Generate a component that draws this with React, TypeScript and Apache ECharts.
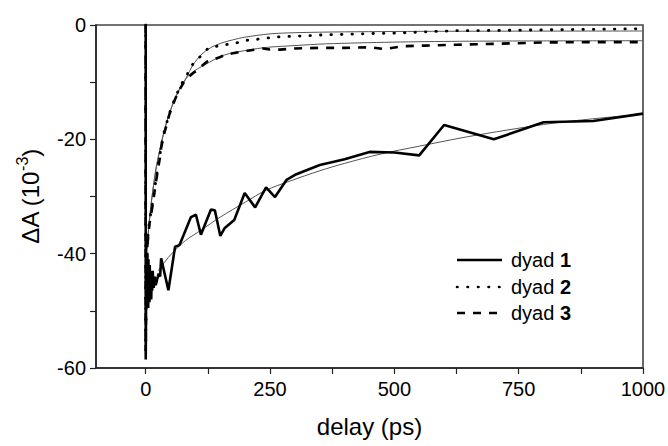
import React, { useEffect, useRef } from "react";
import * as echarts from "echarts";

// delay (ps) and ΔA (10^-3)
const t1 = [0, 0, 1, 1.5, 2, 2.5, 3, 3.5, 4, 5, 5.5, 6, 7, 7.5, 8, 9, 10, 11, 12, 13, 14, 16, 18, 20, 23, 26, 29, 31, 45.6, 59, 68, 91, 101, 111, 131, 139, 150, 159, 178, 199, 220, 242, 260, 283, 303, 350, 400, 450, 500, 550, 600, 700, 800, 900, 1000];
const dyad1 = [0, -58.5, -44, -49, -42, -48, -40, -47.5, -43, -49.5, -41, -47, -44, -48.5, -42, -46.5, -43, -48, -44.5, -46.5, -43, -46, -44, -45.5, -44.5, -43.5, -44, -40.8, -46.4, -38.8, -38.5, -33.6, -33.2, -36.7, -32.3, -32.4, -36.9, -35.5, -34.1, -29.4, -31.9, -28.4, -30.1, -27.1, -26.1, -24.5, -23.5, -22.2, -22.3, -22.8, -17.5, -20.0, -17.0, -16.8, -15.5];

const t2 = [0, 0, 1, 2, 3, 4, 6, 8, 10, 14, 18, 21, 25, 28, 31, 35, 38, 42, 47, 53, 58, 64, 70, 76, 81, 88, 95, 102, 110, 119, 128, 140, 151, 165, 178, 190, 200, 212, 224, 242, 262, 290, 320, 362, 400, 450, 511, 560, 625, 700, 800, 900, 1000];
const dyad2 = [0, -57, -44, -41, -39, -37.5, -35.5, -34, -33, -31, -28.5, -27, -24.5, -23, -21.3, -19.5, -18.4, -17.2, -15.6, -14.2, -13, -11.8, -10.6, -9.7, -9.1, -7.8, -6.8, -6.1, -5.5, -4.6, -3.9, -3.8, -3.5, -3.4, -3.3, -2.9, -2.7, -2.6, -2.5, -2.3, -2.1, -2.0, -1.9, -1.7, -1.65, -1.5, -1.4, -1.2, -1.0, -0.95, -0.85, -0.75, -0.65];

const t3 = [0, 0, 1, 2, 3, 4, 6, 8, 10, 14, 18, 21, 25, 28, 31, 35, 38, 42, 47, 53, 58, 64, 70, 76, 81, 90, 97, 105, 115, 125, 138, 150, 160, 175, 190, 205, 220, 235, 250, 270, 300, 350, 400, 450, 480, 520, 560, 625, 700, 800, 900, 1000];
const dyad3 = [0, -57, -45, -42, -40, -38, -36, -34.5, -33.5, -31.5, -29, -27.2, -25, -23.5, -21.5, -19.8, -18.7, -17.5, -15.8, -14.3, -13.2, -12.0, -11, -10.1, -9.5, -8.8, -8.3, -7.9, -7.0, -6.3, -6.0, -5.6, -5.2, -4.95, -4.7, -4.5, -4.3, -4.1, -4.3, -4.3, -4.1, -4.0, -4.0, -3.9, -4.2, -3.7, -3.6, -3.45, -3.3, -3.05, -3.0, -3.0];

// fitted curves (thin lines)
const tFit1 = [25, 31, 45, 59, 80, 111, 150, 200, 242, 290, 350, 400, 471, 550, 650, 800, 900, 1000];
const fit1 = [-43, -42.3, -40.7, -39.4, -37.7, -35.9, -33.6, -31.0, -28.9, -27.3, -25.5, -24.2, -22.6, -21.2, -19.5, -17.4, -16.4, -15.6];
const tFit2 = [2, 5, 10, 15, 21, 28, 35, 47, 64, 81, 95, 111, 130, 151, 175, 198, 250, 300, 400, 600, 1000];
const fit2 = [-40, -36.5, -32, -28.5, -25, -22, -19.3, -15.6, -11.9, -9.3, -7.0, -5.25, -4.0, -3.2, -2.6, -2.15, -1.55, -1.35, -1.2, -1.1, -1.05];
const tFit3 = [2, 5, 10, 15, 21, 28, 35, 47, 64, 81, 95, 118, 158, 205, 245, 300, 362, 496, 631, 800, 1000];
const fit3 = [-40, -36.5, -32, -28.5, -25, -22, -19.3, -15.6, -11.9, -9.4, -8.2, -7.0, -5.25, -4.4, -3.9, -3.6, -3.3, -3.0, -2.85, -2.78, -2.75];

const xLabelValues = [0, 250, 500, 750, 1000];
const xTickValues = [0, 125, 250, 375, 500, 625, 750, 875, 1000];
const legendNames = ["1", "2", "3"];

const FONT = '"Liberation Sans", Arial, Helvetica, sans-serif';

function zip(t: number[], v: number[]) {
  return t.map((x, i) => [x, v[i]]);
}

export default function App() {
  const ref = useRef<HTMLDivElement>(null);
  useEffect(() => {
    if (!ref.current) return;
    const chart = echarts.init(ref.current, null, { renderer: "svg" });
    const fitStyle = { color: "#555", width: 1 };
    const legendY = [260, 287, 313];
    const legendDash: any[] = [null, [0.5, 10], [8, 8]];
    const graphics: any[] = [];
    legendNames.forEach((n, i) => {
      graphics.push({
        type: "line",
        shape: { x1: 457, y1: legendY[i], x2: 502, y2: legendY[i] },
        style: {
          stroke: "#000",
          lineWidth: 2.6,
          lineDash: legendDash[i] || undefined,
          lineCap: i === 1 ? "round" : "butt",
        },
      });
      graphics.push({
        type: "text",
        x: 511,
        y: legendY[i],
        style: {
          text: "dyad {b|" + n + "}",
          fill: "#000",
          fontSize: 20,
          fontFamily: FONT,
          verticalAlign: "middle",
          rich: { b: { fontWeight: "bold", fontSize: 20, fontFamily: FONT, fill: "#000" } },
        },
      });
    });

    chart.setOption({
      animation: false,
      backgroundColor: "#fff",
      grid: {
        left: 96,
        right: 25,
        top: 25,
        bottom: 78,
        containLabel: false,
        outerBoundsMode: "none",
        show: true,
        borderColor: "#444",
        borderWidth: 1.6,
      },
      xAxis: {
        type: "value",
        min: -100,
        max: 1000,
        name: "delay (ps)",
        nameLocation: "middle",
        nameGap: 46,
        nameTextStyle: { fontSize: 24, fontFamily: FONT, color: "#000" },
        axisLine: { show: true, onZero: false, lineStyle: { color: "#222", width: 1.5 } },
        axisTick: { show: true, inside: false, length: 6, customValues: xTickValues, lineStyle: { color: "#222", width: 1.2 } },
        axisLabel: {
          customValues: xLabelValues,
          fontSize: 20,
          fontFamily: FONT,
          color: "#000",
          margin: 11,
          formatter: (v: number) => String(v),
        },
        splitLine: { show: false },
      },
      yAxis: {
        type: "value",
        min: -60,
        max: 0,
        interval: 10,
        name: "ΔA (10{sup|-3})",
        nameLocation: "middle",
        nameRotate: 90,
        nameGap: 48,
        nameTextStyle: {
          fontSize: 24,
          fontFamily: FONT,
          color: "#000",
          lineHeight: 32,
          rich: {
            sup: { fontSize: 16, fontFamily: FONT, color: "#000", verticalAlign: "top", lineHeight: 16 },
          },
        },
        axisLine: { show: true, onZero: false, lineStyle: { color: "#222", width: 1.5 } },
        axisTick: { show: true, inside: false, length: 6, lineStyle: { color: "#222", width: 1.2 } },
        axisLabel: {
          fontSize: 20,
          fontFamily: FONT,
          color: "#000",
          margin: 10,
          formatter: (v: number) => (v % 20 === 0 ? String(v) : ""),
        },
        splitLine: { show: false },
      },
      series: [
        { type: "line", name: "fit 1", data: zip(tFit1, fit1), smooth: 0.3, showSymbol: false, symbol: "none", lineStyle: fitStyle, z: 2 },
        { type: "line", name: "fit 2", data: zip(tFit2, fit2), smooth: 0.3, showSymbol: false, symbol: "none", lineStyle: fitStyle, z: 2 },
        { type: "line", name: "fit 3", data: zip(tFit3, fit3), smooth: 0.3, showSymbol: false, symbol: "none", lineStyle: fitStyle, z: 2 },
        { type: "line", name: "dyad 2", data: zip(t2, dyad2), showSymbol: false, symbol: "none", lineStyle: { color: "#000", width: 2.8, type: [0.5, 10], cap: "round" }, z: 3 },
        { type: "line", name: "dyad 3", data: zip(t3, dyad3), showSymbol: false, symbol: "none", lineStyle: { color: "#000", width: 2.6, type: [8, 8] }, z: 3 },
        { type: "line", name: "dyad 1", data: zip(t1, dyad1), showSymbol: false, symbol: "none", lineStyle: { color: "#000", width: 2.6 }, z: 4 },
      ],
      graphic: graphics,
    });
    return () => chart.dispose();
  }, []);
  return <div ref={ref} style={{ position: "fixed", left: 0, top: 0, width: 668, height: 446 }} />;
}
